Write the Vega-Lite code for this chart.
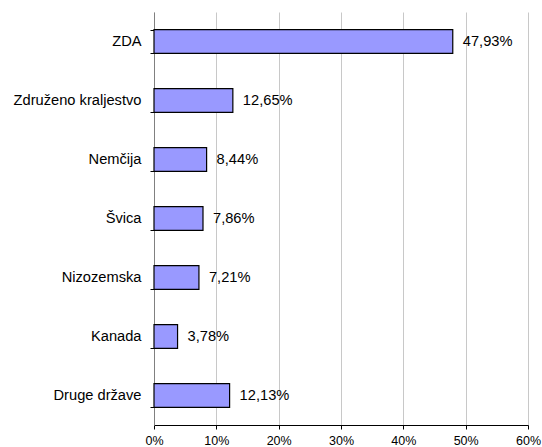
{
  "$schema": "https://vega.github.io/schema/vega-lite/v6.json",
  "width": 374,
  "height": 413,
  "autosize": {"type": "none"},
  "padding": {"left": 154, "top": 12, "right": 14, "bottom": 22},
  "config": {
    "view": {"stroke": null},
    "font": "Liberation Sans"
  },
  "data": {
    "values": [
      {"drzava": "ZDA", "delez": 47.93, "label": "47,93%"},
      {"drzava": "Združeno kraljestvo", "delez": 12.65, "label": "12,65%"},
      {"drzava": "Nemčija", "delez": 8.44, "label": "8,44%"},
      {"drzava": "Švica", "delez": 7.86, "label": "7,86%"},
      {"drzava": "Nizozemska", "delez": 7.21, "label": "7,21%"},
      {"drzava": "Kanada", "delez": 3.78, "label": "3,78%"},
      {"drzava": "Druge države", "delez": 12.13, "label": "12,13%"}
    ]
  },
  "encoding": {
    "y": {
      "field": "drzava",
      "type": "nominal",
      "sort": null,
      "scale": {"paddingInner": 0.6, "paddingOuter": 0.3},
      "axis": {
        "title": null,
        "domainColor": "#808080",
        "tickColor": "#000000",
        "tickBand": "extent",
        "tickSize": 4,
        "labelFontSize": 14.67,
        "labelColor": "#000000",
        "labelPadding": 9,
        "grid": false
      }
    }
  },
  "layer": [
    {
      "mark": {"type": "bar", "fill": "#9999FF", "stroke": "#000000", "strokeWidth": 1.2},
      "encoding": {
        "x": {
          "field": "delez",
          "type": "quantitative",
          "scale": {"domain": [0, 60], "nice": false},
          "axis": {
            "title": null,
            "values": [0, 10, 20, 30, 40, 50, 60],
            "labelExpr": "datum.value + '%'",
            "grid": true,
            "gridColor": "#c8c8c8",
            "domainColor": "#000000",
            "tickColor": "#000000",
            "tickSize": 4,
            "labelFontSize": 12.5,
            "labelColor": "#000000",
            "labelPadding": 5,
            "labelFlush": false
          }
        }
      }
    },
    {
      "mark": {"type": "text", "align": "left", "dx": 10, "fontSize": 14.67, "color": "#000000"},
      "encoding": {
        "x": {"field": "delez", "type": "quantitative"},
        "text": {"field": "label"}
      }
    }
  ]
}
